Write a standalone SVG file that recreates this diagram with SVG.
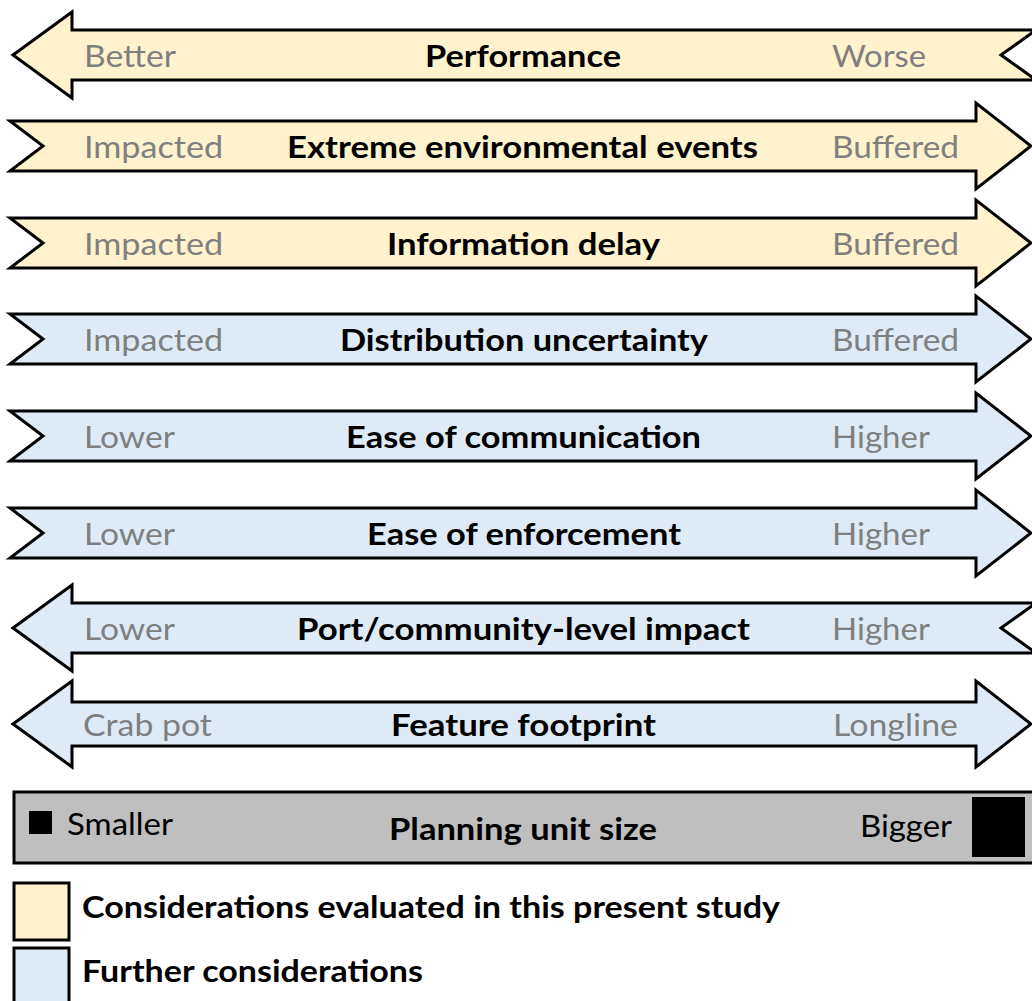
<svg xmlns="http://www.w3.org/2000/svg" xmlns:xlink="http://www.w3.org/1999/xlink" width="1032" height="1001" viewBox="0 0 1032 1001">
  <style>
    .yel { fill: #fff2cc; }
    .blu { fill: #deebf7; }
    .shape { stroke: #000; stroke-width: 3; stroke-linejoin: miter; }
    .lbl { font-family: Lato, "Open Sans", "Liberation Sans", sans-serif; font-size: 31px; fill: #7f7f7f; }
    .ttl { font-family: Lato, "Open Sans", "Liberation Sans", sans-serif; font-size: 31px; font-weight: bold; fill: #000; }
    .plain { font-family: Lato, "Open Sans", "Liberation Sans", sans-serif; font-size: 31px; fill: #000; }
  </style>
  <defs>
    <!-- arrow outlines, centred on y = 0 -->
    <path id="arrowRight" d="M10,-25 L976,-25 L976,-43 L1031,0 L976,43 L976,25 L10,25 L43,0 Z"/>
    <path id="arrowLeft" d="M13,0 L72,-43 L72,-25 L1036,-25 L1001,0 L1036,25 L72,25 L72,43 Z"/>
    <path id="arrowBoth" d="M13,0 L72,-43 L72,-22 L976,-22 L976,-43 L1031,0 L976,43 L976,22 L72,22 L72,43 Z"/>
  </defs>

  <g id="connectors"/>

  <g id="performance" transform="translate(0,55)">
    <use xlink:href="#arrowLeft" class="shape yel"/>
    <text class="lbl" x="84" y="12" textLength="92" lengthAdjust="spacingAndGlyphs">Better</text>
    <text class="ttl" x="425" y="12" textLength="196" lengthAdjust="spacingAndGlyphs">Performance</text>
    <text class="lbl" x="832" y="12" textLength="94" lengthAdjust="spacingAndGlyphs">Worse</text>
  </g>

  <g id="extreme-events" transform="translate(0,146)">
    <use xlink:href="#arrowRight" class="shape yel"/>
    <text class="lbl" x="84" y="12" textLength="139" lengthAdjust="spacingAndGlyphs">Impacted</text>
    <text class="ttl" x="287" y="12" textLength="471" lengthAdjust="spacingAndGlyphs">Extreme environmental events</text>
    <text class="lbl" x="832" y="12" textLength="127" lengthAdjust="spacingAndGlyphs">Buffered</text>
  </g>

  <g id="information-delay" transform="translate(0,243)">
    <use xlink:href="#arrowRight" class="shape yel"/>
    <text class="lbl" x="84" y="12" textLength="139" lengthAdjust="spacingAndGlyphs">Impacted</text>
    <text class="ttl" x="387" y="12" textLength="273" lengthAdjust="spacingAndGlyphs">Information delay</text>
    <text class="lbl" x="832" y="12" textLength="127" lengthAdjust="spacingAndGlyphs">Buffered</text>
  </g>

  <g id="distribution-uncertainty" transform="translate(0,339)">
    <use xlink:href="#arrowRight" class="shape blu"/>
    <text class="lbl" x="84" y="12" textLength="139" lengthAdjust="spacingAndGlyphs">Impacted</text>
    <text class="ttl" x="340" y="12" textLength="368" lengthAdjust="spacingAndGlyphs">Distribution uncertainty</text>
    <text class="lbl" x="832" y="12" textLength="127" lengthAdjust="spacingAndGlyphs">Buffered</text>
  </g>

  <g id="communication" transform="translate(0,436)">
    <use xlink:href="#arrowRight" class="shape blu"/>
    <text class="lbl" x="84" y="12" textLength="91" lengthAdjust="spacingAndGlyphs">Lower</text>
    <text class="ttl" x="346" y="12" textLength="355" lengthAdjust="spacingAndGlyphs">Ease of communication</text>
    <text class="lbl" x="832" y="12" textLength="98" lengthAdjust="spacingAndGlyphs">Higher</text>
  </g>

  <g id="enforcement" transform="translate(0,533)">
    <use xlink:href="#arrowRight" class="shape blu"/>
    <text class="lbl" x="84" y="12" textLength="91" lengthAdjust="spacingAndGlyphs">Lower</text>
    <text class="ttl" x="367" y="12" textLength="314" lengthAdjust="spacingAndGlyphs">Ease of enforcement</text>
    <text class="lbl" x="832" y="12" textLength="98" lengthAdjust="spacingAndGlyphs">Higher</text>
  </g>

  <g id="community-impact" transform="translate(0,628)">
    <use xlink:href="#arrowLeft" class="shape blu"/>
    <text class="lbl" x="84" y="12" textLength="91" lengthAdjust="spacingAndGlyphs">Lower</text>
    <text class="ttl" x="297" y="12" textLength="453" lengthAdjust="spacingAndGlyphs">Port/community-level impact</text>
    <text class="lbl" x="832" y="12" textLength="98" lengthAdjust="spacingAndGlyphs">Higher</text>
  </g>

  <g id="feature-footprint" transform="translate(0,724)">
    <use xlink:href="#arrowBoth" class="shape blu"/>
    <text class="lbl" x="83" y="12" textLength="129" lengthAdjust="spacingAndGlyphs">Crab pot</text>
    <text class="ttl" x="391" y="12" textLength="265" lengthAdjust="spacingAndGlyphs">Feature footprint</text>
    <text class="lbl" x="833" y="12" textLength="125" lengthAdjust="spacingAndGlyphs">Longline</text>
  </g>

  <g id="planning-unit-size">
    <rect x="14" y="792" width="1024" height="71" fill="#bfbfbf" class="shape"/>
    <rect x="29" y="811" width="23" height="23" fill="#000"/>
    <text class="plain" x="67" y="835" textLength="106" lengthAdjust="spacingAndGlyphs">Smaller</text>
    <text class="ttl" x="389" y="840" textLength="268" lengthAdjust="spacingAndGlyphs">Planning unit size</text>
    <text class="plain" x="860" y="837" textLength="92" lengthAdjust="spacingAndGlyphs">Bigger</text>
    <rect x="972" y="797" width="53" height="60" fill="#000"/>
  </g>

  <g id="legend">
    <rect x="14" y="883" width="55" height="57" class="shape yel"/>
    <text class="ttl" x="82" y="918" textLength="698" lengthAdjust="spacingAndGlyphs">Considerations evaluated in this present study</text>
    <rect x="14" y="948" width="55" height="60" class="shape blu"/>
    <text class="ttl" x="82" y="982" textLength="341" lengthAdjust="spacingAndGlyphs">Further considerations</text>
  </g>
</svg>
